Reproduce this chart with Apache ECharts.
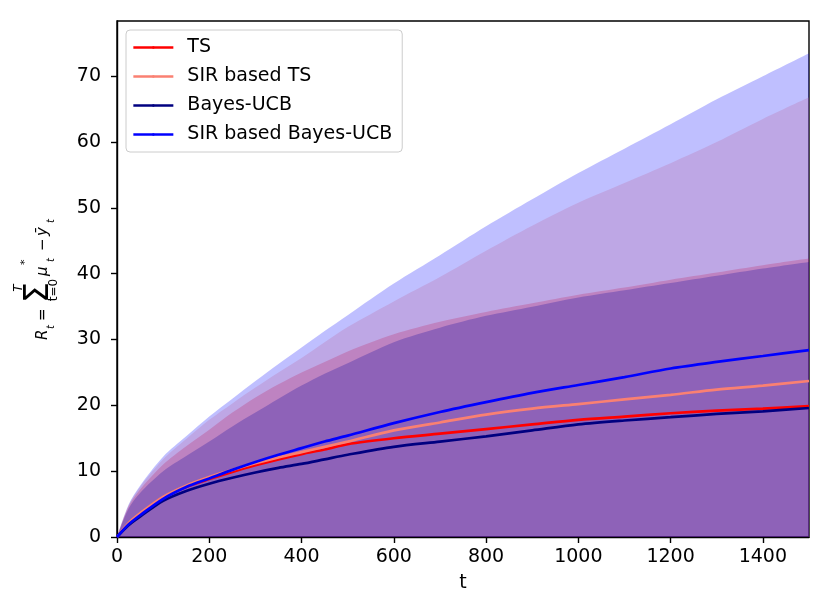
<!DOCTYPE html>
<html>
<head>
<meta charset="utf-8">
<script src="https://cdn.jsdelivr.net/npm/echarts@6/dist/echarts.min.js"></script>
<style>
html,body{margin:0;padding:0;background:#fff;}
#chart{width:830px;height:610px;}
</style>
</head>
<body>
<div id="chart"></div>
<script>
// ---- data ----
var t = [0,25,50,100,150,200,250,300,350,400,450,500,600,700,800,900,1000,1100,1200,1300,1400,1500];

var tsMean      = [0,2.0,3.5,6.0,7.6,8.8,9.9,10.9,11.8,12.6,13.3,14.1,15.0,15.7,16.4,17.1,17.8,18.3,18.8,19.2,19.5,19.9];
var sirTsMean   = [0,2.1,3.6,6.1,7.8,9.1,10.2,11.2,12.1,12.9,13.7,14.5,16.2,17.4,18.6,19.5,20.2,20.9,21.6,22.4,23.0,23.7];
var bucbMean    = [0,1.8,3.1,5.5,7.0,8.1,9.0,9.8,10.5,11.1,11.8,12.5,13.7,14.5,15.3,16.2,17.1,17.7,18.2,18.7,19.1,19.6];
var sirBucbMean = [0,1.9,3.3,5.8,7.6,8.9,10.2,11.4,12.5,13.5,14.5,15.4,17.3,19.0,20.5,21.9,23.1,24.3,25.6,26.6,27.5,28.4];

var tsUpper      = [0,4.6,7.2,11.0,13.8,16.3,18.9,21.2,23.2,25.0,26.6,28.2,30.8,32.7,34.2,35.5,36.8,37.9,39.1,40.2,41.3,42.3];
var sirTsUpper   = [0,4.8,7.6,11.8,14.9,17.8,20.3,22.7,25.0,27.2,29.6,31.9,35.8,39.5,43.5,47.3,50.8,53.8,56.8,60.0,63.5,66.8];
var bucbUpper    = [0,4.3,6.7,10.0,12.3,14.5,16.8,18.9,21.0,23.0,24.8,26.4,29.6,31.8,33.6,35.0,36.4,37.5,38.6,39.7,40.8,41.8];
var sirBucbUpper = [0,4.9,7.8,12.2,15.3,18.3,21.0,23.7,26.3,28.8,31.3,33.7,38.5,42.8,47.2,51.3,55.3,59.0,62.7,66.5,70.0,73.5];

var names  = ['TS', 'SIR based TS', 'Bayes-UCB', 'SIR based Bayes-UCB'];
var colors = ['#ff0000', '#fa8072', '#000080', '#0000ff'];
var yTicks = [0,10,20,30,40,50,60,70];
var xTicks = [0,200,400,600,800,1000,1200,1400];

// ---- build ----
function pairs(v){ return t.map(function(x,i){ return [x, v[i]]; }); }
var means  = [tsMean, sirTsMean, bucbMean, sirBucbMean];
var uppers = [tsUpper, sirTsUpper, bucbUpper, sirBucbUpper];

var series = [];
uppers.forEach(function(u, i){
  series.push({
    name: names[i] + ' band', type: 'line', data: pairs(u), symbol: 'none',
    lineStyle: {width: 0, opacity: 0},
    areaStyle: {color: colors[i], opacity: 0.25},
    z: 1, silent: true, smooth: 0.3
  });
});
means.forEach(function(m, i){
  series.push({
    name: names[i], type: 'line', data: pairs(m), symbol: 'none',
    lineStyle: {width: 2.7, color: colors[i]}, itemStyle: {color: colors[i]},
    z: 5, smooth: 0.3
  });
});

var F = 'DejaVu Sans';
var chart = echarts.init(document.getElementById('chart'), null, {renderer: 'canvas'});

function txt(s, x, y, size, italic, align){
  return {type: 'text', x: x, y: y, style: {
    text: s, fill: '#000', align: align || 'left', verticalAlign: 'middle',
    font: (italic ? 'italic ' : 'normal ') + size + 'px DejaVu Sans'
  }};
}

chart.setOption({
  animation: false,
  backgroundColor: '#fff',
  grid: {left: 117, right: 21, top: 21, bottom: 73, show: true, borderColor: '#000', borderWidth: 1.4, containLabel: false},
  legend: {
    data: names, orient: 'vertical', left: 126, top: 30,
    itemWidth: 40, itemHeight: 3, itemGap: 10,
    padding: [8, 10, 8, 6],
    lineStyle: {width: 2.7},
    backgroundColor: 'rgba(255,255,255,0.8)', borderColor: '#cccccc', borderWidth: 1, borderRadius: 4,
    textStyle: {fontFamily: F, fontSize: 19, color: '#000', lineHeight: 18, padding: [0,0,0,9]}
  },
  xAxis: {
    type: 'value', min: 0, max: 1500, interval: 200,
    name: 't', nameLocation: 'middle', nameGap: 37,
    nameTextStyle: {fontFamily: F, fontSize: 19, color: '#000'},
    axisLine: {show: true, lineStyle: {color: '#000', width: 1.4}},
    axisTick: {show: true, length: 6, lineStyle: {color: '#000', width: 1.4}, customValues: xTicks},
    axisLabel: {fontFamily: F, fontSize: 19, color: '#000', margin: 11, customValues: xTicks,
      formatter: function(v){ return String(v); }},
    splitLine: {show: false}
  },
  yAxis: {
    type: 'value', min: 0, max: 78.4, interval: 10,
    axisLine: {show: true, lineStyle: {color: '#000', width: 1.4}},
    axisTick: {show: true, length: 6, lineStyle: {color: '#000', width: 1.4}, customValues: yTicks},
    axisLabel: {fontFamily: F, fontSize: 19, color: '#000', margin: 16, customValues: yTicks,
      formatter: function(v){ return String(v); }},
    splitLine: {show: false}
  },
  graphic: [{
    type: 'group', x: 48, y: 340, rotation: Math.PI / 2,
    children: [
      txt('R', 0, -5.2, 15, true),
      txt('t', 11, 3.5, 10, true),
      txt('=', 19, -5.2, 15, false),
      txt('Σ', 37, -9, 33, false),
      txt('T', 52, -29.5, 12, true, 'center'),
      txt('t=0', 50, 6, 12, false, 'center'),
      txt('μ', 64, -5.2, 15, true),
      txt('*', 75, -23, 11, false),
      txt('t', 78, 3.5, 10, true),
      txt('−', 89, -5.2, 15, false),
      txt('ȳ', 104, -5.2, 15, true),
      txt('t', 117, 3.5, 10, true)
    ]
  }],
  series: series
});
</script>
</body>
</html>
